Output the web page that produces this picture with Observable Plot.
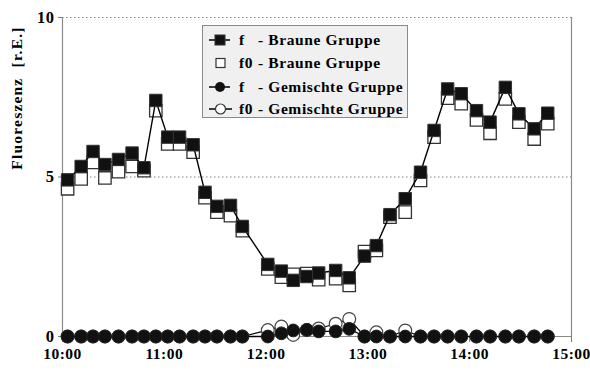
<!DOCTYPE html>
<html>
<head>
<meta charset="utf-8">
<script src="https://cdn.jsdelivr.net/npm/d3@7"></script>
<script src="https://cdn.jsdelivr.net/npm/@observablehq/plot@0.6"></script>
<style>
  html, body { margin: 0; padding: 0; background: #fff; }
  #wrap { position: relative; width: 590px; height: 370px; }
  #wrap svg { display: block; }
  g[aria-label="x-axis tick"] path, g[aria-label="y-axis tick"] path { stroke: #7a7a7a; }
  #legend {
    position: absolute; left: 202px; top: 25px; width: 206px; height: 93px;
    background: #f0f0f0; border: 1px solid #8a8a8a; box-sizing: border-box;
    font-family: "Liberation Serif", "Times New Roman", serif; font-weight: bold; font-size: 15.5px;
    letter-spacing: 0.6px; color: #000;
  }
  .row { position: absolute; left: 0; height: 20px; width: 100%; }
  .row svg { position: absolute; left: 5px; top: 0; }
  .row .k { position: absolute; left: 36px; top: 0px; line-height: 19px; }
  .row .t { position: absolute; left: 55px; top: 0px; line-height: 19px; white-space: pre; }
</style>
</head>
<body>
<div id="wrap"></div>
<script>
// ---- data ----
const times = ["10:03","10:11","10:18","10:25","10:33","10:41","10:48","10:55","11:02","11:09",
               "11:17","11:24","11:31","11:39","11:46","12:01","12:09","12:16","12:24","12:31",
               "12:41","12:49","12:58","13:05","13:13","13:22","13:31","13:39","13:47","13:55",
               "14:04","14:12","14:21","14:29","14:38","14:46"];
const brauneF  = [4.91,5.33,5.80,5.39,5.55,5.75,5.29,7.40,6.25,6.25,
                  6.01,4.52,4.08,4.11,3.45,2.26,2.05,1.76,1.88,1.99,
                  2.07,1.84,2.52,2.85,3.82,4.32,5.15,6.46,7.76,7.61,
                  7.08,6.72,7.81,6.98,6.51,7.00];
const brauneF0 = [4.63,4.94,5.46,4.97,5.17,5.33,5.20,7.08,6.04,6.04,
                  5.78,4.35,3.90,3.79,3.32,2.12,1.86,1.95,1.97,1.78,
                  1.81,1.60,2.66,2.70,3.74,3.90,4.89,6.25,7.47,7.30,
                  6.79,6.37,7.45,6.72,6.19,6.67];
const gemF     = [0,0,0,0,0,0,0,0,0,0,
                  0,0,0,0,0,0.00,0.10,0.19,0.21,0.16,
                  0.16,0.24,0,0,0,0,0,0,0,0,
                  0,0,0,0,0,0];
const gemF0    = [0,0,0,0,0,0,0,0,0,0,
                  0,0,0,0,0,0.20,0.31,0.05,0.20,0.25,
                  0.40,0.55,0,0.13,0,0.19,0,0,0,0,
                  0,0,0,0,0,0];
const xTickLabels = ["10:00","11:00","12:00","13:00","14:00","15:00"];
const yTicks = [0, 5, 10];
const yGrid = [5, 10];
const yTitle = "Fluoreszenz\u00a0\u00a0[r.E.]";
const seriesNames = ["f", "f0", "f", "f0"];
const groupNames = ["- Braune Gruppe", "- Braune Gruppe", "- Gemischte Gruppe", "- Gemischte Gruppe"];

// ---- build tables ----
const toMin = s => { const [h, m] = s.split(":").map(Number); return h * 60 + m; };
const xTickMin = xTickLabels.map(toMin);
const mk = vals => times.map((t, i) => ({x: toMin(t), y: vals[i]}));
const bF = mk(brauneF), bF0 = mk(brauneF0), gF = mk(gemF), gF0 = mk(gemF0);

const plot = Plot.plot({
  width: 590, height: 370,
  marginLeft: 62, marginRight: 19, marginTop: 17, marginBottom: 34,
  x: {domain: [xTickMin[0], xTickMin[xTickMin.length - 1]]},
  y: {domain: [yTicks[0], yTicks[yTicks.length - 1]]},
  style: {fontFamily: "'Liberation Serif', 'Times New Roman', serif", fontWeight: "bold", fontSize: "15px", color: "#000", background: "#fff", letterSpacing: "0.5px"},
  marks: [
    Plot.ruleY(yGrid, {stroke: "#808080", strokeDasharray: "1.5,2.5", strokeWidth: 1}),
    Plot.ruleX([xTickMin[0], xTickMin[xTickMin.length - 1]], {stroke: "#8a8a8a", strokeWidth: 1.2}),
    Plot.ruleY([yTicks[0]], {stroke: "#8a8a8a", strokeWidth: 1.2}),
    Plot.axisX(xTickMin, {tickSize: 6, tickPadding: 5, label: null,
      tickFormat: d => xTickLabels[xTickMin.indexOf(d)], fontSize: 15.5}),
    Plot.axisY(yTicks, {tickSize: 4, tickPadding: 4, label: null, fontSize: 16.5}),
    Plot.text([yTitle], {frameAnchor: "left", textAnchor: "middle", rotate: -90, dx: -45, dy: -79, fontSize: 15.5, fill: "#000", style: "letter-spacing:1.2px"}),
    // Braune Gruppe
    Plot.dot(bF0, {x: "x", y: "y", symbol: "square", r: 7, fill: "#fff", stroke: "#333", strokeWidth: 1.3}),
    Plot.line(bF, {x: "x", y: "y", stroke: "#000", strokeWidth: 1.4}),
    Plot.dot(bF, {x: "x", y: "y", symbol: "square", r: 7, fill: "#111", stroke: "#333", strokeWidth: 1}),
    // Gemischte Gruppe
    Plot.line(gF0, {x: "x", y: "y", stroke: "#000", strokeWidth: 1.2}),
    Plot.dot(gF0, {x: "x", y: "y", r: 6.4, fill: "#fff", stroke: "#444", strokeWidth: 1.2}),
    Plot.line(gF, {x: "x", y: "y", stroke: "#000", strokeWidth: 1.3}),
    Plot.dot(gF, {x: "x", y: "y", r: 6.4, fill: "#111", stroke: "#222", strokeWidth: 1})
  ]
});
const wrap = document.getElementById("wrap");
wrap.appendChild(plot);
plot.querySelectorAll("text").forEach(t => { if (t.textContent === yTitle) t.style.letterSpacing = "1.2px"; });

// ---- legend ----
const legend = document.createElement("div");
legend.id = "legend";
const icons = [
  '<line x1="1" y1="10" x2="22" y2="10" stroke="#000" stroke-width="1.5"/><rect x="7" y="5" width="10" height="10" fill="#111" stroke="#333"/>',
  '<rect x="8" y="5.5" width="9" height="9" fill="#fff" stroke="#333" stroke-width="1.2"/>',
  '<line x1="1" y1="10" x2="22" y2="10" stroke="#000" stroke-width="1.5"/><circle cx="12" cy="10" r="5" fill="#111"/>',
  '<line x1="1" y1="10" x2="24" y2="10" stroke="#000" stroke-width="1.5"/><circle cx="12.5" cy="10" r="5" fill="#fff" stroke="#333" stroke-width="1.2"/>'
];
const rowTops = [4, 27, 51, 73];
seriesNames.forEach((s, i) => {
  const r = document.createElement("div");
  r.className = "row";
  r.style.top = rowTops[i] + "px";
  r.innerHTML = `<svg width="26" height="20">${icons[i]}</svg><span class="k">${s}</span><span class="t">${groupNames[i]}</span>`;
  legend.appendChild(r);
});
wrap.appendChild(legend);
</script>
</body>
</html>
